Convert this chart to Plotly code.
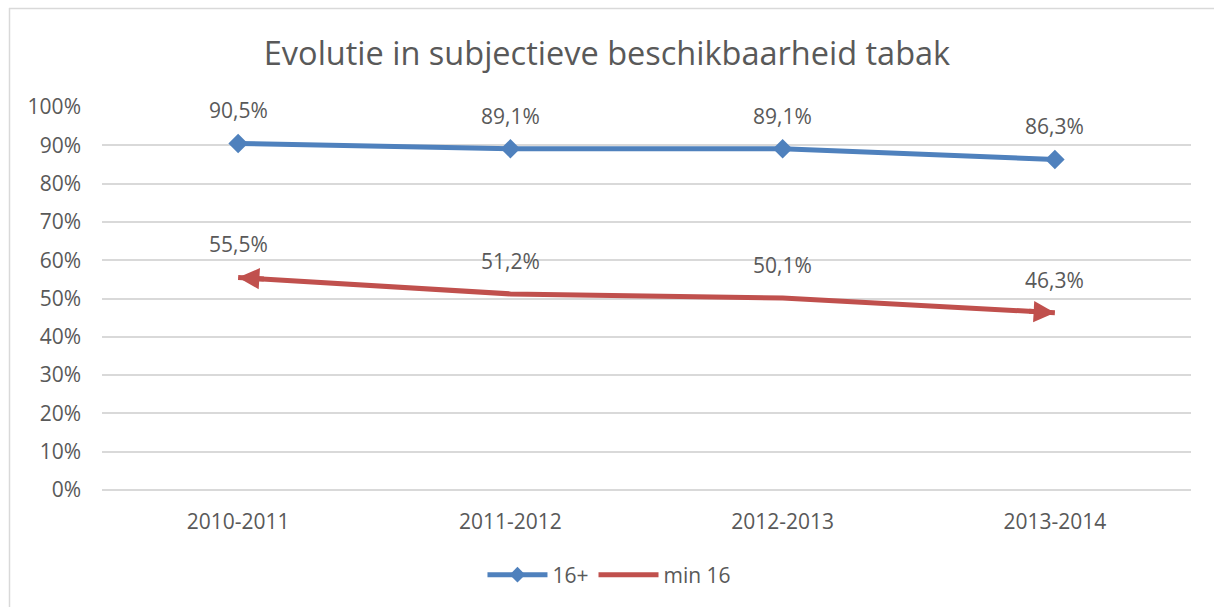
import plotly.graph_objects as go

categories = ["2010-2011", "2011-2012", "2012-2013", "2013-2014"]
series_16plus = [90.5, 89.1, 89.1, 86.3]
series_min16 = [55.5, 51.2, 50.1, 46.3]
labels_16plus = ["90,5%", "89,1%", "89,1%", "86,3%"]
labels_min16 = ["55,5%", "51,2%", "50,1%", "46,3%"]
y_ticks = list(range(0, 101, 10))
y_tick_labels = [f"{v}%" for v in y_ticks]

BLUE = "#4F81BD"
RED = "#C0504D"
GRAY = "#595959"
FONT = "Open Sans"

W, H = 1214, 607
L, R, T, B = 102, 23, 107, 117
pw, ph = W - L - R, H - T - B

fig = go.Figure()
fig.add_trace(go.Scatter(
    x=categories, y=series_16plus, name="16+", mode="lines+markers",
    line=dict(color=BLUE, width=5),
    marker=dict(symbol="diamond", size=15, color=BLUE),
))
fig.add_trace(go.Scatter(
    x=categories, y=series_min16, name="min 16", mode="lines",
    line=dict(color=RED, width=5),
))

# arrowheads at both ends of the "min 16" line, pointing along the line
n = len(series_min16)
frac = 0.1
for i, j in [(0, 1), (n - 1, n - 2)]:
    yi, yj = series_min16[i], series_min16[j]
    fig.add_annotation(
        x=i, y=yi, xref="x", yref="y",
        ax=i + (j - i) * frac, ay=yi + (yj - yi) * frac,
        axref="x", ayref="y", showarrow=True, text="",
        arrowhead=2, arrowsize=0.85, arrowwidth=5, arrowcolor=RED,
        standoff=0, startstandoff=0,
    )

for ys, ls in [(series_16plus, labels_16plus), (series_min16, labels_min16)]:
    for x, y, t in zip(categories, ys, ls):
        fig.add_annotation(x=x, y=y, text=t, showarrow=False, yshift=33,
                           font=dict(family=FONT, size=21, color=GRAY))

def px_to_paper_x(px):
    return (px - L) / pw

def px_to_paper_y(py):
    return (H - B - py) / ph

# chart border (top and left edges visible)
fig.add_shape(type="line", xref="paper", yref="paper",
              x0=px_to_paper_x(9), x1=px_to_paper_x(W + 5),
              y0=px_to_paper_y(8.5), y1=px_to_paper_y(8.5),
              line=dict(color="#D9D9D9", width=1.5))
fig.add_shape(type="line", xref="paper", yref="paper",
              x0=px_to_paper_x(9.5), x1=px_to_paper_x(9.5),
              y0=px_to_paper_y(8), y1=px_to_paper_y(H + 5),
              line=dict(color="#D9D9D9", width=1.5))

fig.update_layout(
    width=W, height=H,
    margin=dict(l=L, r=R, t=T, b=B, autoexpand=False),
    paper_bgcolor="white", plot_bgcolor="white",
    title=dict(text="Evolutie in subjectieve beschikbaarheid tabak",
               x=0.5, xanchor="center", y=1 - 54 / H, yanchor="middle",
               font=dict(family=FONT, size=32.5, color=GRAY)),
    font=dict(family=FONT, size=20, color=GRAY),
    xaxis=dict(showgrid=False, showline=False, ticks="", ticklabelstandoff=17,
               tickfont=dict(family=FONT, size=21, color=GRAY),
               range=[-0.5, 3.5]),
    yaxis=dict(range=[0, 100], tickvals=y_ticks, ticktext=y_tick_labels,
               showgrid=True, gridcolor="#D9D9D9", gridwidth=1.5,
               zeroline=True, zerolinecolor="#D9D9D9", zerolinewidth=1.5,
               showline=False, ticks="", ticklabelstandoff=20,
               tickfont=dict(family=FONT, size=21, color=GRAY)),
    showlegend=True,
    legend=dict(orientation="h", x=0.466, xanchor="center",
                y=px_to_paper_y(575), yanchor="middle",
                font=dict(family=FONT, size=21, color=GRAY),
                itemsizing="constant", itemwidth=60),
)

fig.write_html("out.html", config={"displayModeBar": False},
               post_script="document.body.style.margin='0px';")
